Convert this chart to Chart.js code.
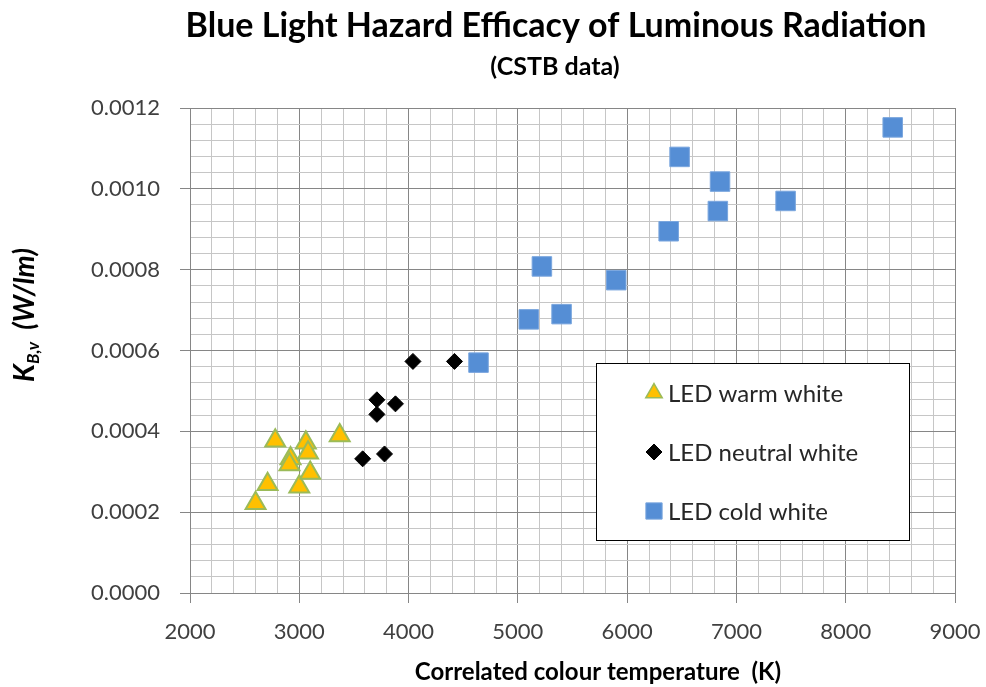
<!DOCTYPE html>
<html lang="en">
<head>
  <meta charset="UTF-8">
  <title>Blue Light Hazard Efficacy of Luminous Radiation</title>
  <script src="https://cdn.jsdelivr.net/npm/chart.js"></script>
  <style>
    html, body { margin: 0; padding: 0; background: #fff; }
    #wrap { width: 986px; height: 687px; }
  </style>
</head>
<body>
  <div id="wrap"><canvas id="chart"></canvas></div>
  <script>
    // CSTB data: correlated colour temperature (K) vs K_B,v (W/lm)
    const warmCct = [2600, 2710, 2780, 2920, 2910, 3000, 3060, 3080, 3100, 3370];
    const warmKbv = [0.000222, 0.000269, 0.000377, 0.000333, 0.000318, 0.000263, 0.000372, 0.000347, 0.000297, 0.000390];

    const neutralCct = [4040, 4420, 3710, 3880, 3710, 3580, 3780];
    const neutralKbv = [0.000573, 0.000573, 0.000478, 0.000468, 0.000442, 0.000332, 0.000344];

    const coldCct = [4640, 5100, 5400, 5220, 5900, 6380, 6830, 6850, 6480, 7450, 8430];
    const coldKbv = [0.000570, 0.000677, 0.000690, 0.000808, 0.000774, 0.000895, 0.000945, 0.001018, 0.001079, 0.000970, 0.001152];

    const seriesNames = ['LED warm white', 'LED neutral white', 'LED cold white'];

    const xMin = 2000, xMax = 9000, xMinor = 200, xMajor = 1000;
    const yMin = 0, yMax = 0.0012, yMinor = 0.00004, yMajor = 0.0002;

    const FONT = "Lato, 'Open Sans', sans-serif";
    const MAJOR = '#868686';
    const MINOR = '#c6c6c6';

    function toPoints(xs, ys) {
      return xs.map((x, i) => ({ x: x, y: ys[i] }));
    }

    function isMajorY(v) {
      return Math.round(v / yMinor) % Math.round(yMajor / yMinor) === 0;
    }

    // titles drawn by hand: Excel centres them a bit off the plot centre
    const titlesPlugin = {
      id: 'titles',
      afterDraw(chart) {
        const ctx = chart.ctx;
        ctx.save();
        ctx.fillStyle = '#000';
        ctx.textAlign = 'center';
        ctx.textBaseline = 'middle';
        ctx.font = 'bold 34px ' + FONT;
        ctx.fillText('Blue Light Hazard Efficacy of Luminous Radiation', 556, 26);
        ctx.font = 'bold 25px ' + FONT;
        ctx.fillText('(CSTB data)', 555, 67);
        ctx.font = 'bold 24px ' + FONT;
        ctx.fillText('Correlated colour temperature  (K)', 598, 672);

        // y axis title with subscript
        ctx.translate(34, 315);
        ctx.rotate(-Math.PI / 2);
        ctx.textBaseline = 'alphabetic';
        ctx.textAlign = 'left';
        const big = 'italic bold 28px ' + FONT;
        const small = 'italic bold 17px ' + FONT;
        ctx.font = big;
        const w1 = ctx.measureText('K').width;
        ctx.font = small;
        const w2 = ctx.measureText('B,v').width;
        ctx.font = big;
        const w3 = ctx.measureText('  (W/lm)').width;
        let x = -(w1 + w2 + w3) / 2;
        ctx.font = big;
        ctx.fillText('K', x, 0);
        x += w1;
        ctx.font = small;
        ctx.fillText('B,v', x, 5);
        x += w2;
        ctx.font = big;
        ctx.fillText('  (W/lm)', x, 0);
        ctx.restore();
      }
    };

    // boxed legend inside the plot area
    const boxLegendPlugin = {
      id: 'boxLegend',
      afterDraw(chart) {
        const ctx = chart.ctx;
        const box = { x: 596.5, y: 363.5, w: 313, h: 177 };
        ctx.save();
        ctx.fillStyle = '#fff';
        ctx.fillRect(box.x, box.y, box.w, box.h);
        ctx.strokeStyle = '#000';
        ctx.lineWidth = 1;
        ctx.strokeRect(box.x, box.y, box.w, box.h);

        const rows = [393, 452, 511];
        const radii = [9.5, 8, 11.5];
        chart.data.datasets.forEach((ds, i) => {
          ctx.fillStyle = ds.backgroundColor;
          ctx.strokeStyle = ds.borderColor;
          ctx.lineWidth = i === 0 ? 1.5 : 1;
          Chart.helpers.drawPoint(ctx, {
            pointStyle: ds.pointStyle,
            radius: radii[i],
            rotation: 0,
            borderWidth: ctx.lineWidth
          }, 654, rows[i]);
          ctx.fillStyle = '#262626';
          ctx.font = '24px ' + FONT;
          ctx.textBaseline = 'middle';
          ctx.textAlign = 'left';
          ctx.fillText(ds.label, 668, rows[i] + 1);
        });
        ctx.restore();
      }
    };

    new Chart(document.getElementById('chart'), {
      type: 'scatter',
      data: {
        datasets: [
          {
            label: seriesNames[0],
            data: toPoints(warmCct, warmKbv),
            pointStyle: 'triangle',
            pointRadius: 11.5,
            pointHoverRadius: 11.5,
            backgroundColor: '#FFC000',
            borderColor: '#9BBB59',
            borderWidth: 2
          },
          {
            label: seriesNames[1],
            data: toPoints(neutralCct, neutralKbv),
            pointStyle: 'rectRot',
            pointRadius: 8,
            pointHoverRadius: 8,
            backgroundColor: '#000000',
            borderColor: '#000000',
            borderWidth: 1
          },
          {
            label: seriesNames[2],
            data: toPoints(coldCct, coldKbv),
            pointStyle: 'rect',
            pointRadius: 13.8,
            pointHoverRadius: 13.8,
            backgroundColor: '#558ED5',
            borderColor: '#7AA6DE',
            borderWidth: 1
          }
        ]
      },
      options: {
        responsive: true,
        maintainAspectRatio: false,
        animation: false,
        layout: { padding: { left: 0, right: 31, top: 108, bottom: 0 } },
        plugins: {
          legend: { display: false },
          tooltip: { enabled: false }
        },
        scales: {
          x: {
            type: 'linear',
            min: xMin,
            max: xMax,
            afterFit(scale) {
              scale.height = 94;
              scale.paddingRight = 0;
              scale.paddingLeft = 0;
            },
            border: { display: true, color: MAJOR, width: 1 },
            grid: {
              color: c => (c.tick && c.tick.value % xMajor === 0) ? MAJOR : MINOR,
              tickColor: c => (c.tick && c.tick.value % xMajor === 0) ? MAJOR : 'rgba(0,0,0,0)',
              tickLength: 10,
              lineWidth: 1
            },
            ticks: {
              stepSize: xMinor,
              autoSkip: false,
              maxRotation: 0,
              padding: 16,
              color: '#404040',
              font: { family: FONT, size: 22 },
              callback: v => (v % xMajor === 0 ? String(v) : '')
            }
          },
          y: {
            type: 'linear',
            min: yMin,
            max: yMax,
            afterFit(scale) { scale.width = 190; },
            border: { display: true, color: MAJOR, width: 1 },
            grid: {
              color: c => (c.tick && isMajorY(c.tick.value)) ? MAJOR : MINOR,
              tickColor: c => (c.tick && isMajorY(c.tick.value)) ? MAJOR : 'rgba(0,0,0,0)',
              tickLength: 10,
              lineWidth: 1
            },
            ticks: {
              stepSize: yMinor,
              autoSkip: false,
              padding: 20,
              color: '#404040',
              font: { family: FONT, size: 22 },
              callback: v => (isMajorY(v) ? v.toFixed(4) : '')
            }
          }
        }
      },
      plugins: [titlesPlugin, boxLegendPlugin]
    });
  </script>
</body>
</html>
